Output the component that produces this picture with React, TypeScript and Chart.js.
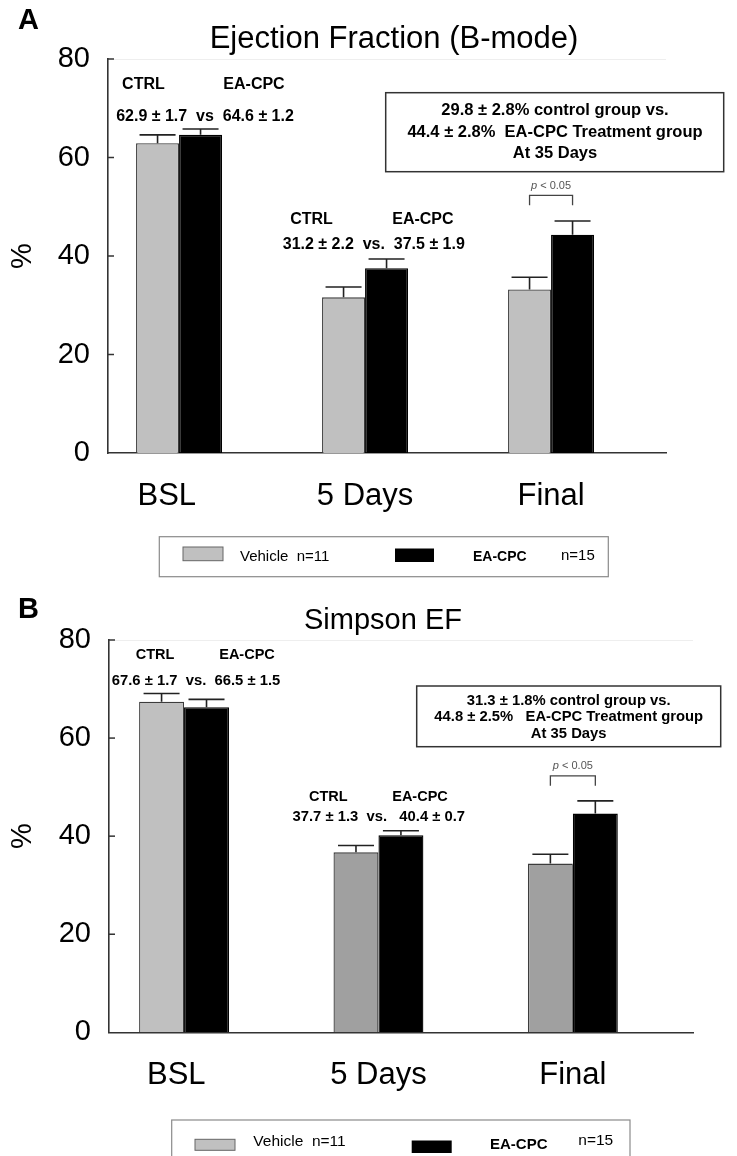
import React, { useEffect, useRef } from 'react';
import { Chart, registerables } from 'chart.js';

Chart.register(...registerables);

// ---------- data ----------
const categories = ['BSL', '5 Days', 'Final'];
const yTickValues = [0, 20, 40, 60, 80];

const vehicleA = [62.9, 31.6, 33.2];
const vehicleErrA = [1.7, 2.1, 2.5];
const treatedA = [64.6, 37.5, 44.3];
const treatedErrA = [1.2, 1.9, 2.8];

const vehicleB = [67.4, 36.7, 34.4];
const vehicleErrB = [1.7, 1.4, 1.9];
const treatedB = [66.3, 40.2, 44.6];
const treatedErrB = [1.6, 0.9, 2.6];

const seriesNames = ['Vehicle', 'EA-CPC'];

// ---------- styling ----------
const FAM = '"Liberation Sans", Arial, Helvetica, sans-serif';

type T = { t: string; x: number; y: number; s: number; b?: boolean; a?: CanvasTextAlign; c?: string };

type Panel = {
  offset: number;
  canvasH: number;
  left: number;
  top: number;
  bottom: number;
  padRight: number;
  xMin: number;
  xMax: number;
  labelPos: number[];
  vehicle: number[];
  vehicleErr: number[];
  treated: number[];
  treatedErr: number[];
  vehicleColors: string[];
  texts: T[];
  box: { x: number; y: number; w: number; h: number };
  legend: {
    x: number; y: number; w: number; h: number;
    gray: [number, number, number, number];
    black: [number, number, number, number];
    t1: T; t2: T; t3: T;
  };
};

const panelA: Panel = {
  offset: 0,
  canvasH: 590,
  left: 108,
  top: 59,
  bottom: 453,
  padRight: 71,
  xMin: -0.382,
  xMax: 2.618,
  labelPos: [-0.066, 1, 2],
  vehicle: vehicleA,
  vehicleErr: vehicleErrA,
  treated: treatedA,
  treatedErr: treatedErrA,
  vehicleColors: ['#c0c0c0', '#c0c0c0', '#c0c0c0'],
  texts: [
    { t: 'A', x: 18, y: 21, s: 29, b: true, a: 'left' },
    { t: 'Ejection Fraction (B-mode)', x: 394, y: 39, s: 31 },
    { t: 'CTRL', x: 143.4, y: 85, s: 16, b: true },
    { t: 'EA-CPC', x: 254, y: 85, s: 16, b: true },
    { t: '62.9 ± 1.7  vs  64.6 ± 1.2', x: 205, y: 116.7, s: 16, b: true },
    { t: 'CTRL', x: 311.5, y: 220, s: 16, b: true },
    { t: 'EA-CPC', x: 422.9, y: 220, s: 16, b: true },
    { t: '31.2 ± 2.2  vs.  37.5 ± 1.9', x: 373.8, y: 245, s: 16, b: true },
    { t: '29.8 ± 2.8% control group vs.', x: 555, y: 110.5, s: 16.5, b: true },
    { t: '44.4 ± 2.8%  EA-CPC Treatment group', x: 555, y: 132, s: 16.5, b: true },
    { t: 'At 35 Days', x: 555, y: 153.5, s: 16.5, b: true },
  ],
  box: { x: 385.7, y: 92.7, w: 338, h: 79 },
  legend: {
    x: 159.3, y: 536.7, w: 449, h: 40,
    gray: [183, 547, 40, 13.7],
    black: [395, 548.5, 39, 13.5],
    t1: { t: 'Vehicle  n=11', x: 240, y: 556.7, s: 15, a: 'left' },
    t2: { t: 'EA-CPC', x: 473, y: 557, s: 14, b: true, a: 'left' },
    t3: { t: 'n=15', x: 561, y: 556, s: 15, a: 'left' },
  },
};

const panelB: Panel = {
  offset: 590,
  canvasH: 566,
  left: 109,
  top: 50,
  bottom: 442.3,
  padRight: 44,
  xMin: -0.386,
  xMax: 2.618,
  labelPos: [-0.04, 1, 2],
  vehicle: vehicleB,
  vehicleErr: vehicleErrB,
  treated: treatedB,
  treatedErr: treatedErrB,
  vehicleColors: ['#c0c0c0', '#a0a0a0', '#a0a0a0'],
  texts: [
    { t: 'B', x: 18, y: 610, s: 29, b: true, a: 'left' },
    { t: 'Simpson EF', x: 383, y: 621, s: 29 },
    { t: 'CTRL', x: 155, y: 655, s: 14.5, b: true },
    { t: 'EA-CPC', x: 247, y: 655, s: 14.5, b: true },
    { t: '67.6 ± 1.7  vs.  66.5 ± 1.5', x: 196, y: 680.7, s: 14.8, b: true },
    { t: 'CTRL', x: 328.3, y: 796.7, s: 14.5, b: true },
    { t: 'EA-CPC', x: 420, y: 796.7, s: 14.5, b: true },
    { t: '37.7 ± 1.3  vs.   40.4 ± 0.7', x: 378.8, y: 816.7, s: 14.8, b: true },
    { t: '31.3 ± 1.8% control group vs.', x: 568.7, y: 700.7, s: 14.8, b: true },
    { t: '44.8 ± 2.5%   EA-CPC Treatment group', x: 568.7, y: 717.3, s: 14.8, b: true },
    { t: 'At 35 Days', x: 568.7, y: 734, s: 14.8, b: true },
  ],
  box: { x: 416.7, y: 686, w: 304, h: 60.7 },
  legend: {
    x: 171.7, y: 1120, w: 458.3, h: 60,
    gray: [195, 1139.3, 40, 11],
    black: [411.7, 1140.5, 40, 12.5],
    t1: { t: 'Vehicle  n=11', x: 253.3, y: 1142, s: 15.5, a: 'left' },
    t2: { t: 'EA-CPC', x: 490, y: 1145, s: 15, b: true, a: 'left' },
    t3: { t: 'n=15', x: 578.3, y: 1141, s: 15.5, a: 'left' },
  },
};

// bracket / p-value positions (value units on the y scale)
const bracketTop = 52.3;
const bracketBottom = 50.3;
const pLabelValue = 54.3;

function drawText(ctx: CanvasRenderingContext2D, o: T) {
  ctx.font = `${o.b ? 'bold ' : ''}${o.s}px ${FAM}`;
  ctx.fillStyle = o.c || '#000';
  ctx.textAlign = o.a || 'center';
  ctx.textBaseline = 'middle';
  ctx.fillText(o.t, o.x, o.y);
}

function overlay(p: Panel) {
  return {
    id: 'overlay' + p.offset,
    afterDatasetsDraw(chart: any) {
      const ctx: CanvasRenderingContext2D = chart.ctx;
      const ys = chart.scales.y;
      const area = chart.chartArea;
      ctx.save();
      // error bars
      const errs = [p.vehicleErr, p.treatedErr];
      const vals = [p.vehicle, p.treated];
      ctx.strokeStyle = '#222';
      ctx.lineWidth = 1.6;
      for (let d = 0; d < 2; d++) {
        const meta = chart.getDatasetMeta(d);
        meta.data.forEach((el: any, i: number) => {
          const yv = ys.getPixelForValue(vals[d][i]);
          const yt = ys.getPixelForValue(vals[d][i] + errs[d][i]);
          ctx.beginPath();
          ctx.moveTo(el.x, yv);
          ctx.lineTo(el.x, yt);
          ctx.moveTo(el.x - 18, yt);
          ctx.lineTo(el.x + 18, yt);
          ctx.stroke();
        });
      }
      // inward ticks on the y axis
      ctx.strokeStyle = '#333';
      ctx.lineWidth = 1.5;
      yTickValues.forEach((v) => {
        if (v === 0) return;
        const y = ys.getPixelForValue(v);
        ctx.beginPath();
        ctx.moveTo(area.left, y);
        ctx.lineTo(area.left + 6, y);
        ctx.stroke();
      });
      // faint frame top
      ctx.strokeStyle = '#eeeeee';
      ctx.lineWidth = 1;
      ctx.beginPath();
      ctx.moveTo(area.left + 6, area.top + 0.5);
      ctx.lineTo(area.right, area.top + 0.5);
      ctx.stroke();

      // significance bracket on "Final"
      const g = chart.getDatasetMeta(0).data[2];
      const k = chart.getDatasetMeta(1).data[2];
      const bt = ys.getPixelForValue(bracketTop);
      const bb = ys.getPixelForValue(bracketBottom);
      ctx.strokeStyle = '#444';
      ctx.lineWidth = 1.3;
      ctx.beginPath();
      ctx.moveTo(g.x, bb);
      ctx.lineTo(g.x, bt);
      ctx.lineTo(k.x, bt);
      ctx.lineTo(k.x, bb);
      ctx.stroke();
      const py = ys.getPixelForValue(pLabelValue);
      ctx.font = `italic 11px ${FAM}`;
      const wp = ctx.measureText('p').width;
      ctx.font = `11px ${FAM}`;
      const wr = ctx.measureText(' < 0.05').width;
      const sx = (g.x + k.x) / 2 - (wp + wr) / 2;
      ctx.fillStyle = '#555';
      ctx.textAlign = 'left';
      ctx.textBaseline = 'middle';
      ctx.font = `italic 11px ${FAM}`;
      ctx.fillText('p', sx, py);
      ctx.font = `11px ${FAM}`;
      ctx.fillText(' < 0.05', sx + wp, py);

      // page-coordinate annotations
      ctx.translate(0, -p.offset);
      p.texts.forEach((o) => drawText(ctx, o));
      ctx.strokeStyle = '#333';
      ctx.lineWidth = 1.5;
      ctx.strokeRect(p.box.x, p.box.y, p.box.w, p.box.h);

      // legend
      const L = p.legend;
      ctx.strokeStyle = '#8a8a8a';
      ctx.lineWidth = 1.2;
      ctx.strokeRect(L.x, L.y, L.w, L.h);
      ctx.fillStyle = '#c0c0c0';
      ctx.fillRect(L.gray[0], L.gray[1], L.gray[2], L.gray[3]);
      ctx.strokeStyle = '#666';
      ctx.lineWidth = 1;
      ctx.strokeRect(L.gray[0], L.gray[1], L.gray[2], L.gray[3]);
      ctx.fillStyle = '#000';
      ctx.fillRect(L.black[0], L.black[1], L.black[2], L.black[3]);
      drawText(ctx, L.t1);
      drawText(ctx, L.t2);
      drawText(ctx, L.t3);
      ctx.restore();
    },
  };
}

function makeConfig(p: Panel): any {
  const barCommon = {
    categoryPercentage: 0.4624,
    barPercentage: 1,
    borderWidth: 1.3,
  };
  return {
    type: 'bar',
    data: {
      datasets: [
        {
          ...barCommon,
          label: seriesNames[0],
          data: p.vehicle.map((v, i) => ({ x: i, y: v })),
          backgroundColor: p.vehicleColors,
          borderColor: '#3c3c3c',
        },
        {
          ...barCommon,
          label: seriesNames[1],
          data: p.treated.map((v, i) => ({ x: i, y: v })),
          backgroundColor: '#000000',
          borderColor: '#000000',
        },
      ],
    },
    options: {
      animation: false,
      responsive: false,
      maintainAspectRatio: false,
      layout: { padding: { top: p.top, right: p.padRight, bottom: 0, left: 0 } },
      plugins: {
        legend: { display: false },
        tooltip: { enabled: false },
        title: { display: false },
      },
      scales: {
        x: {
          type: 'linear',
          offset: false,
          min: p.xMin,
          max: p.xMax,
          grid: { display: false, drawTicks: false, offset: false },
          border: { display: true, color: '#333', width: 1.6 },
          afterBuildTicks: (s: any) => {
            s.ticks = p.labelPos.map((v) => ({ value: v }));
          },
          ticks: {
            callback: (v: number) => categories[Math.round(v)],
            font: { family: FAM, size: 31 },
            color: '#000',
            padding: 25,
            maxRotation: 0,
            autoSkip: false,
          },
          afterFit: (s: any) => {
            s.height = p.canvasH - p.bottom;
          },
        },
        y: {
          min: 0,
          max: 80,
          ticks: { stepSize: 20, font: { family: FAM, size: 29 }, color: '#000', padding: 18 },
          grid: { display: false, drawTicks: false },
          border: { display: true, color: '#333', width: 1.6 },
          title: {
            display: true,
            text: '%',
            font: { family: FAM, size: 29 },
            color: '#000',
            padding: { top: 5.6, bottom: 0 },
          },
          afterFit: (s: any) => {
            s.width = p.left;
          },
        },
      },
    },
    plugins: [overlay(p)],
  };
}

function ChartPanel({ p }: { p: Panel }) {
  const ref = useRef<HTMLCanvasElement>(null);
  useEffect(() => {
    const chart = new Chart(ref.current as HTMLCanvasElement, makeConfig(p));
    return () => chart.destroy();
  }, []);
  return (
    <canvas
      ref={ref}
      width={737}
      height={p.canvasH}
      style={{ position: 'absolute', left: 0, top: p.offset, width: 737, height: p.canvasH }}
    />
  );
}

export default function App() {
  return (
    <div
      style={{
        position: 'absolute',
        left: 0,
        top: 0,
        width: 737,
        height: 1156,
        background: '#ffffff',
        overflow: 'hidden',
      }}
    >
      <ChartPanel p={panelA} />
      <ChartPanel p={panelB} />
    </div>
  );
}
